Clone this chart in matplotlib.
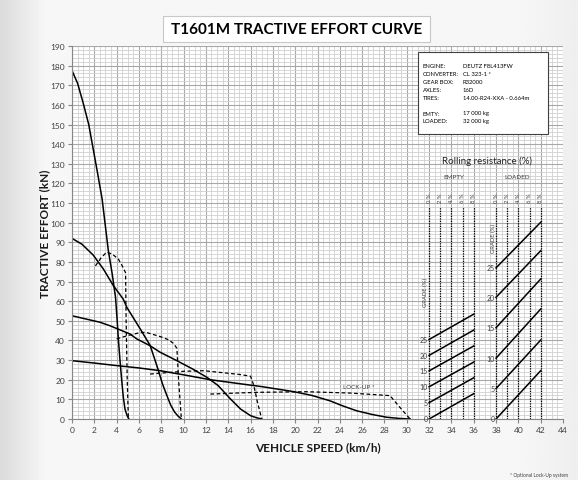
import matplotlib
matplotlib.use('Agg')
import matplotlib.pyplot as plt
import numpy as np
from matplotlib.patches import Rectangle

# converter curves (solid), km/h vs kN
gear1_x = [0, 0.5, 1.0, 1.5, 1.9, 2.3, 2.7, 3.25, 3.6, 3.9, 4.05, 4.15, 4.3, 4.45, 4.6, 4.75, 4.95, 5.1]
gear1_y = [177.5, 171, 161, 150, 137.5, 125, 112, 86, 74, 62, 50, 41, 30, 20, 11, 5, 1.5, 0]
gear2_x = [0, 0.9, 1.9, 2.8, 3.7, 4.6, 4.9, 6.1, 7.0, 7.7, 8.1, 8.5, 8.85, 9.2, 9.5, 9.8]
gear2_y = [92, 89, 83.5, 76.5, 68, 61, 57, 46, 37.5, 25.5, 18, 12, 7, 3.5, 1.5, 0]
gear3_x = [0, 1.2, 2.5, 3.4, 5.2, 5.8, 7.0, 7.9, 9.4, 10.8, 12.1, 13.1, 14.2, 15.1, 16.0, 16.5, 17.0]
gear3_y = [52.6, 51, 49.3, 47.5, 43.3, 40.8, 37.3, 34, 29.7, 25.5, 21.2, 17, 10.2, 5.1, 1.7, 0.7, 0]
gear4_x = [0, 2, 4, 6, 7.9, 10, 12.4, 15, 17, 19.8, 21.5, 23.1, 24.3, 25.5, 26.9, 28.2, 29.3, 30.3]
gear4_y = [29.7, 28.5, 27.2, 26, 24.6, 22.5, 20, 18, 16.5, 14, 12, 9.3, 6.6, 4.2, 2.3, 0.9, 0.3, 0]

# lock-up curves (dashed)
lock1_x = [2.1, 2.6, 3.1, 3.6, 4.15, 4.5, 4.8, 4.85, 4.95, 5.05]
lock1_y = [78, 82, 85, 84, 81.5, 78, 74.5, 50, 20, 0]
lock2_x = [4.0, 5.0, 6.1, 6.6, 7.9, 8.6, 9.1, 9.4, 9.55, 9.8]
lock2_y = [40.8, 42.5, 44, 44.2, 42, 40.5, 38.5, 36, 20, 0]
lock3_x = [7.0, 8.5, 10.0, 11.8, 13.5, 15.0, 16.0, 16.3, 16.6, 17.0]
lock3_y = [22.9, 23.6, 24.3, 24.6, 23.6, 22.7, 21.8, 17, 9, 0]
lock4_x = [12.4, 15.1, 16.8, 21, 25, 28.5, 29.0, 29.6, 30.3]
lock4_y = [12.7, 13.3, 13.6, 13.9, 13.2, 11.9, 8.5, 4.5, 0]

# rolling resistance / grade nomogram
rr_labels = ['0 %', '2 %', '4 %', '6 %', '8 %']
empty_rr_x = [32, 33, 34, 35, 36]
loaded_rr_x = [38, 39, 40, 41, 42]
grades = [0, 5, 10, 15, 20, 25]
empty_start = [0, 8.3, 16.4, 24.5, 32.4, 40.5]
empty_end = [12.9, 21.0, 29.0, 37.2, 45.3, 53.4]
loaded_start = [0, 15.5, 31, 46.5, 62, 77]
loaded_end = [24.6, 40.2, 56, 71.3, 85.7, 100.2]

info_keys = ['ENGINE:', 'CONVERTER:', 'GEAR BOX:', 'AXLES:', 'TIRES:', 'EMTY:', 'LOADED:']
info_vals = ['DEUTZ F8L413FW', 'CL 323-1 *', 'R32000', '16D', '14.00-R24-XXA - 0.664m',
             '17 000 kg', '32 000 kg']
info_rows_px = [66.7, 74.7, 82.7, 90.7, 99, 114, 121.7]

plt.rcParams['font.family'] = ['Lato', 'DejaVu Sans']

W, H = 578, 481
fig = plt.figure(figsize=(W / 100, H / 100), dpi=100)
fig.patch.set_facecolor('#f4f4f4')

# soft grey backdrop
bg = fig.add_axes([0, 0, 1, 1], zorder=-10)
gx = np.linspace(0, 1, 300)
shade = np.clip(0.86 + gx * 1.4, 0, 0.965) - np.clip((gx - 0.9) * 0.3, 0, 1)
bg.imshow(np.tile(shade, (10, 1)), aspect='auto', cmap='gray', vmin=0, vmax=1,
          extent=[0, 1, 0, 1])
bg.axis('off')

ax = fig.add_axes([72 / W, 61 / H, (563 - 72) / W, (420 - 47) / H])
ax.set_facecolor('white')
ax.set_xlim(0, 44)
ax.set_ylim(0, 190)
ax.set_xticks(np.arange(0, 45, 2))
ax.set_yticks(np.arange(0, 191, 10))
ax.set_xticks(np.arange(0, 44.01, 0.5), minor=True)
ax.set_yticks(np.arange(0, 191, 2), minor=True)
ax.grid(which='major', color='#a8a8a8', lw=0.8)
ax.grid(which='minor', color='#d0d0d0', lw=0.6)
ax.set_axisbelow(True)
ax.tick_params(which='minor', length=0)
ax.tick_params(which='major', length=3, color='#868686', labelsize=6,
               labelcolor='#404040', pad=2)
for s in ['top', 'right']:
    ax.spines[s].set_visible(False)
for s in ['left', 'bottom']:
    ax.spines[s].set_color('#868686')

for xs, ys in [(gear1_x, gear1_y), (gear2_x, gear2_y), (gear3_x, gear3_y), (gear4_x, gear4_y)]:
    ax.plot(xs, ys, color='black', lw=1.1)
for xs, ys in [(lock1_x, lock1_y), (lock2_x, lock2_y), (lock3_x, lock3_y), (lock4_x, lock4_y)]:
    ax.plot(xs, ys, color='black', lw=0.9, ls=(0, (3, 2)))
ax.text(25.7, 16.6, 'LOCK-UP *', ha='center', va='center', fontsize=4.5, color='#404040')

# nomogram
for xs in [empty_rr_x, loaded_rr_x]:
    for xv, lab in zip(xs, rr_labels):
        ax.plot([xv, xv], [0, 108], color='black', lw=0.9, ls=(0, (1, 1)))
        ax.text(xv, 110.5, lab, rotation=90, ha='center', va='bottom', fontsize=4.2,
                color='#404040')
for g, s, e in zip(grades, empty_start, empty_end):
    ax.plot([32, 36], [s, e], color='black', lw=1.1)
    ax.text(31.9, s, str(g), ha='right', va='center', fontsize=5, color='#404040')
for g, s, e in zip(grades, loaded_start, loaded_end):
    ax.plot([38, 42], [s, e], color='black', lw=1.1)
    ax.text(37.9, s, str(g), ha='right', va='center', fontsize=5, color='#404040')
ax.text(31.7, 65, 'GRADE (%)', rotation=90, ha='center', va='center', fontsize=4.2, color='#404040')
ax.text(37.75, 92.7, 'GRADE (%)', rotation=90, ha='center', va='center', fontsize=4.2, color='#404040')
ax.text(34.2, 123.3, 'EMPTY', ha='center', va='center', fontsize=4.5, color='#404040')
ax.text(39.9, 123.3, 'LOADED', ha='center', va='center', fontsize=4.5, color='#404040')
ax.text(37.15, 131.6, 'Rolling resistance (%)', ha='center', va='center', fontsize=7, color='#262626')

# title box
fig.add_artist(Rectangle((163 / W, 1 - 43 / H), (430 - 163) / W, 26 / H, transform=fig.transFigure,
                         facecolor='white', edgecolor='#c8c8c8', lw=0.8, zorder=5))
fig.text(297 / W, 1 - 30 / H, 'T1601M TRACTIVE EFFORT CURVE', ha='center', va='center',
         fontsize=11, fontweight='bold', color='black', zorder=6)

# spec box
fig.add_artist(Rectangle((418 / W, 1 - 135 / H), 130 / W, 82 / H, transform=fig.transFigure,
                         facecolor='white', edgecolor='#404040', lw=0.8, zorder=5))
for k, v, py in zip(info_keys, info_vals, info_rows_px):
    fig.text(422.7 / W, 1 - py / H, k, ha='left', va='center', fontsize=4.2, zorder=6)
    fig.text(462.7 / W, 1 - py / H, v, ha='left', va='center', fontsize=4.2, zorder=6)

fig.text(45 / W, 1 - 234 / H, 'TRACTIVE EFFORT (kN)', rotation=90, ha='center', va='center',
         fontsize=8.5, fontweight='bold', color='#1a1a1a')
fig.text(318 / W, 1 - 448 / H, 'VEHICLE SPEED (km/h)', ha='center', va='center',
         fontsize=8.5, fontweight='bold', color='#1a1a1a')
fig.text(568 / W, 3 / H, '* Optional Lock-Up system', ha='right', va='bottom', fontsize=3.5,
         color='#404040')

fig.savefig('out.png', dpi=100, facecolor=fig.get_facecolor())
